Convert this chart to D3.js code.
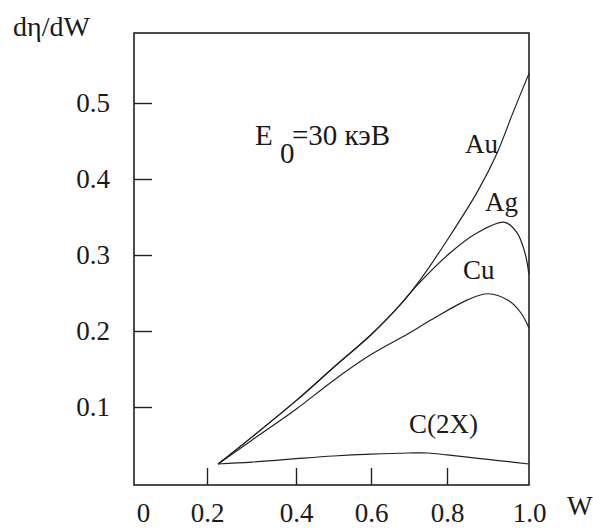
<!DOCTYPE html>
<html>
<head>
<meta charset="utf-8">
<script src="https://cdn.jsdelivr.net/npm/d3@7"></script>
<style>
  body { margin: 0; background: #fff; }
  text { font-family: "Liberation Serif", "Times New Roman", serif; fill: #1a1a1a; }
</style>
</head>
<body>
<svg id="chart"></svg>
<script>
// values
var xTickValues = [0, 0.2, 0.4, 0.6, 0.8, 1.0]
var xTickLabels = ["0", "0.2", "0.4", "0.6", "0.8", "1.0"]
var yTickValues = [0.1, 0.2, 0.3, 0.4, 0.5]
var yTickLabels = ["0.1", "0.2", "0.3", "0.4", "0.5"]

var curveNames = ["Au", "Ag", "Cu", "C(2X)"]

var auCurve = [[0.225,0.025],[0.3,0.06],[0.402,0.109],[0.5,0.152],[0.6,0.195],[0.676,0.234],
               [0.729,0.267],[0.807,0.325],[0.876,0.385],[0.922,0.434],[0.96,0.486],[1.0,0.539]]
var agCurve = [[0.225,0.025],[0.3,0.06],[0.402,0.109],[0.5,0.152],[0.6,0.195],[0.676,0.234],
               [0.721,0.26],[0.808,0.303],[0.873,0.329],[0.941,0.343],[0.971,0.329],[0.99,0.303],[1.0,0.274]]
var cuCurve = [[0.225,0.025],[0.3,0.056],[0.4,0.097],[0.5,0.135],[0.6,0.169],[0.7,0.197],
               [0.76,0.215],[0.85,0.241],[0.9,0.249],[0.95,0.24],[0.98,0.224],[1.0,0.204]]
var cCurve  = [[0.225,0.025],[0.3,0.0275],[0.4,0.032],[0.5,0.0355],[0.6,0.038],[0.7,0.0395],
               [0.75,0.0395],[0.8,0.037],[0.85,0.034],[0.9,0.031],[0.95,0.028],[1.0,0.025]]

var drawChart = function(target)
{
    var screen = {width:593, height:528}
    var frame = {left:134, top:33, right:529, bottom:485}

    var svg = d3.select(target)
        .attr("width", screen.width)
        .attr("height", screen.height)

    // hand-drawn axis in the original, ticks are not evenly spaced
    var xScale = d3.scaleLinear()
        .domain(xTickValues)
        .range([143, 207, 296, 371, 447, 529])

    var yScale = d3.scaleLinear()
        .domain([0, 0.5])
        .range([483, 103])

    svg.append("rect")
        .attr("x", frame.left)
        .attr("y", frame.top)
        .attr("width", frame.right - frame.left)
        .attr("height", frame.bottom - frame.top)
        .attr("fill", "none")
        .attr("stroke", "#222")
        .attr("stroke-width", 1.6)

    var xAxis = d3.axisBottom(xScale)
        .tickValues(xTickValues)
        .tickFormat(function(d, i) { return xTickLabels[i] })
        .tickSizeInner(-17)
        .tickSizeOuter(0)
        .tickPadding(18)

    var xg = svg.append("g")
        .attr("transform", "translate(0," + frame.bottom + ")")
        .call(xAxis)
    xg.select(".domain").remove()
    xg.selectAll(".tick line")
        .attr("stroke", "#222")
        .attr("stroke-width", 1.4)
        .filter(function(d) { return d === 0 || d === 1 })
        .remove()
    xg.selectAll(".tick text")
        .attr("font-size", 27)
        .style("font-family", "'Liberation Serif', serif")
        .attr("fill", "#1a1a1a")

    var yAxis = d3.axisLeft(yScale)
        .tickValues(yTickValues)
        .tickFormat(function(d, i) { return yTickLabels[i] })
        .tickSizeInner(-18)
        .tickSizeOuter(0)
        .tickPadding(24)

    var yg = svg.append("g")
        .attr("transform", "translate(" + frame.left + ",0)")
        .call(yAxis)
    yg.select(".domain").remove()
    yg.selectAll(".tick line")
        .attr("stroke", "#222")
        .attr("stroke-width", 1.4)
    yg.selectAll(".tick text")
        .attr("font-size", 27)
        .style("font-family", "'Liberation Serif', serif")
        .attr("fill", "#1a1a1a")

    var lineGenerator = d3.line()
        .x(function(p) { return xScale(p[0]) })
        .y(function(p) { return yScale(p[1]) })
        .curve(d3.curveCatmullRom.alpha(0.5))

    svg.append("g")
        .selectAll("path")
        .data([auCurve, agCurve, cuCurve, cCurve])
        .enter()
        .append("path")
        .attr("d", lineGenerator)
        .attr("fill", "none")
        .attr("stroke", "#222")
        .attr("stroke-width", 1.2)

    // curve names
    var namePos = [[465,153],[485,211],[463,279],[409,433]]
    svg.append("g")
        .selectAll("text")
        .data(curveNames)
        .enter()
        .append("text")
        .attr("x", function(d, i) { return namePos[i][0] })
        .attr("y", function(d, i) { return namePos[i][1] })
        .attr("font-size", 27)
        .text(function(d) { return d })

    // axis titles
    svg.append("text")
        .attr("x", 13)
        .attr("y", 36)
        .attr("font-size", 28)
        .text("dη/dW")

    svg.append("text")
        .attr("x", 567)
        .attr("y", 515)
        .attr("font-size", 27)
        .text("W")

    // beam energy note
    var note = svg.append("text")
        .attr("x", 255)
        .attr("y", 145)
        .attr("font-size", 29)
    note.append("tspan").text("E")
    note.append("tspan").attr("x", 280).attr("y", 163).text("0")
    note.append("tspan").attr("x", 292).attr("y", 145).text("=30 кэВ")
}

drawChart("#chart")
</script>
</body>
</html>
